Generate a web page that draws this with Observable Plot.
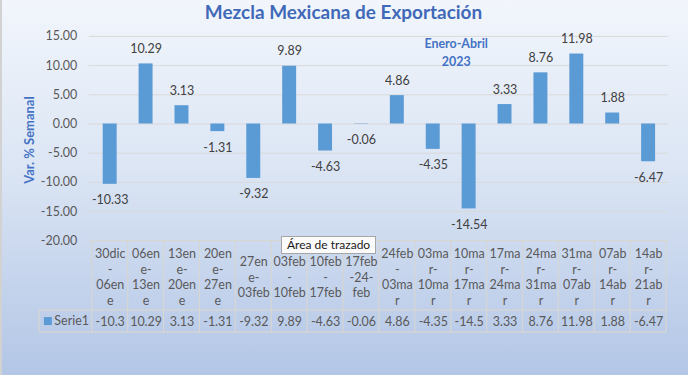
<!DOCTYPE html>
<html>
<head>
<meta charset="utf-8">
<script src="https://cdn.jsdelivr.net/npm/d3@7"></script>
<script src="https://cdn.jsdelivr.net/npm/@observablehq/plot@0.6"></script>
<style>
  html, body { margin: 0; padding: 0; }
  body { width: 688px; height: 375px; overflow: hidden; }
  #chart {
    position: relative; width: 688px; height: 375px;
    background: linear-gradient(to bottom, #f2f6fc 0%, #dbe5f4 45%, #b3c6e6 100%);
    border-left: 2px solid #d2d2d2; box-sizing: border-box;
  }
  #chart svg { position: absolute; left: -2px; top: 0; }
  #tip {
    position: absolute; left: 279px; top: 236px; height: 16px;
    padding: 0 5px 0 5px; background: #fbfbfb; border: 1px solid #a6a6a6;
    font: 12px Lato, "Liberation Sans", sans-serif; line-height: 16px; color: #1a1a1a;
    white-space: nowrap;
  }
</style>
</head>
<body>
<div id="chart"></div>
<script>
// ---- Data ----
const titulo = "Mezcla Mexicana de Exportación";
const ejeY = "Var. % Semanal";
const nota = "Enero-Abril\n2023";
const serie = "Serie1";
const periodos = [
  "30dic-06ene", "06ene-13ene", "13ene-20ene", "20ene-27ene", "27ene-03feb",
  "03feb-10feb", "10feb-17feb", "17feb-24-feb", "24feb-03mar", "03mar-10mar",
  "10mar-17mar", "17mar-24mar", "24mar-31mar", "31mar-07abr", "07abr-14abr", "14abr-21abr"
];
const etiquetas = [
  "30dic\n-\n06en\ne", "06en\ne-\n13en\ne", "13en\ne-\n20en\ne", "20en\ne-\n27en\ne",
  "27en\ne-\n03feb", "03feb\n-\n10feb", "10feb\n-\n17feb", "17feb\n-24-\nfeb",
  "24feb\n-\n03ma\nr", "03ma\nr-\n10ma\nr", "10ma\nr-\n17ma\nr", "17ma\nr-\n24ma\nr",
  "24ma\nr-\n31ma\nr", "31ma\nr-\n07ab\nr", "07ab\nr-\n14ab\nr", "14ab\nr-\n21ab\nr"
];
const variacion = [-10.33, 10.29, 3.13, -1.31, -9.32, 9.89, -4.63, -0.06, 4.86, -4.35, -14.54, 3.33, 8.76, 11.98, 1.88, -6.47];
const valoresTabla = ["-10.3", "10.29", "3.13", "-1.31", "-9.32", "9.89", "-4.63", "-0.06", "4.86", "-4.35", "-14.5", "3.33", "8.76", "11.98", "1.88", "-6.47"];
const ticksY = [-20, -15, -10, -5, 0, 5, 10, 15];

// ---- Chart ----
const data = periodos.map((p, i) => ({ p, v: variacion[i], lab: etiquetas[i], tv: valoresTabla[i] }));
const font = "Lato, 'Liberation Sans', sans-serif";
const azul = "#5b9bd5";
const azulTexto = "#4472c4";
const gris = "#595959";

const plot = Plot.plot({
  width: 688, height: 375,
  marginTop: 36, marginBottom: 134, marginLeft: 89, marginRight: 18,
  style: { background: "transparent", fontFamily: font, fontSize: "12.5px", color: gris, overflow: "visible" },
  x: { domain: periodos, padding: 0, axis: null },
  y: { domain: [-20, 15], axis: null },
  marks: [
    Plot.gridY(ticksY, { stroke: "#d9d9d9", strokeOpacity: 1 }),
    Plot.axisY(ticksY, { tickSize: 0, tickPadding: 12, tickFormat: d => d.toFixed(2), fill: gris, fontSize: 12.5, label: null }),
    Plot.barY(data, { x: "p", y: "v", fill: azul, insetLeft: 11, insetRight: 11 }),
    Plot.text(data.filter(d => d.v >= 0), { x: "p", y: "v", text: d => d.v.toFixed(2), dy: -15, lineAnchor: "middle", fill: "#404040", fontSize: 12.5 }),
    Plot.text(data.filter(d => d.v < 0), { x: "p", y: "v", text: d => d.v.toFixed(2), dy: 16, lineAnchor: "middle", fill: "#404040", fontSize: 12.5 }),
    // data table header & values
    Plot.text(data, { x: "p", frameAnchor: "bottom", dy: 36, text: "lab", lineAnchor: "middle", lineHeight: 1.24, fill: gris, fontSize: 12.5 }),
    Plot.text(data, { x: "p", frameAnchor: "bottom", dy: 81, text: "tv", lineAnchor: "middle", fill: gris, fontSize: 12.5 }),
    // title, axis label, annotation
    Plot.text([titulo], { frameAnchor: "top", dx: -35.5, dy: -17, lineAnchor: "bottom", text: d => d, fill: "#3f69b8", fontWeight: "bold", fontSize: 19 }),
    Plot.text([ejeY], { frameAnchor: "left", textAnchor: "middle", dx: -60, dy: 1.5, rotate: -90, text: d => d, fill: azulTexto, fontWeight: "bold", fontSize: 13 }),
    Plot.text([nota], { frameAnchor: "top", dx: 77.5, dy: 15, lineAnchor: "middle", lineHeight: 1.45, text: d => d, fill: azulTexto, fontWeight: "bold", fontSize: 12.5 })
  ]
});

// ---- data-table grid, drawn from Plot's own scales ----
const sx = plot.scale("x");
const sy = plot.scale("y");
const bw = sx.bandwidth;
const x0 = sx.apply(periodos[0]);
const xN = sx.apply(periodos[periodos.length - 1]) + bw;
const tTop = sy.apply(-20);
const hdrBottom = tTop + 70;
const tBottom = tTop + 92;
const legLeft = x0 - 53;
const g = d3.select(plot).append("g").attr("stroke", "#d6d6d2").attr("stroke-width", 1.2).attr("fill", "none");
g.append("line").attr("x1", x0).attr("x2", xN).attr("y1", tTop).attr("y2", tTop);
g.append("line").attr("x1", legLeft).attr("x2", xN).attr("y1", hdrBottom).attr("y2", hdrBottom);
g.append("line").attr("x1", legLeft).attr("x2", xN).attr("y1", tBottom).attr("y2", tBottom);
g.append("line").attr("x1", legLeft).attr("x2", legLeft).attr("y1", hdrBottom).attr("y2", tBottom);
periodos.forEach(p => {
  const xl = sx.apply(p);
  g.append("line").attr("x1", xl).attr("x2", xl).attr("y1", tTop).attr("y2", tBottom);
});
g.append("line").attr("x1", xN).attr("x2", xN).attr("y1", tTop).attr("y2", tBottom);
// legend key in table
const leg = d3.select(plot).append("g");
const rowMid = (hdrBottom + tBottom) / 2;
leg.append("rect").attr("x", legLeft + 5).attr("y", rowMid - 4).attr("width", 8).attr("height", 8).attr("fill", azul);
leg.append("text").attr("x", legLeft + 15.5).attr("y", rowMid).attr("dy", "0.35em")
  .attr("text-anchor", "start")
  .attr("fill", gris).attr("font-size", 12.5).attr("font-family", font).text(serie);

const chart = document.getElementById("chart");
chart.appendChild(plot);
const tip = document.createElement("div");
tip.id = "tip";
tip.textContent = "Área de trazado";
chart.appendChild(tip);
</script>
</body>
</html>
